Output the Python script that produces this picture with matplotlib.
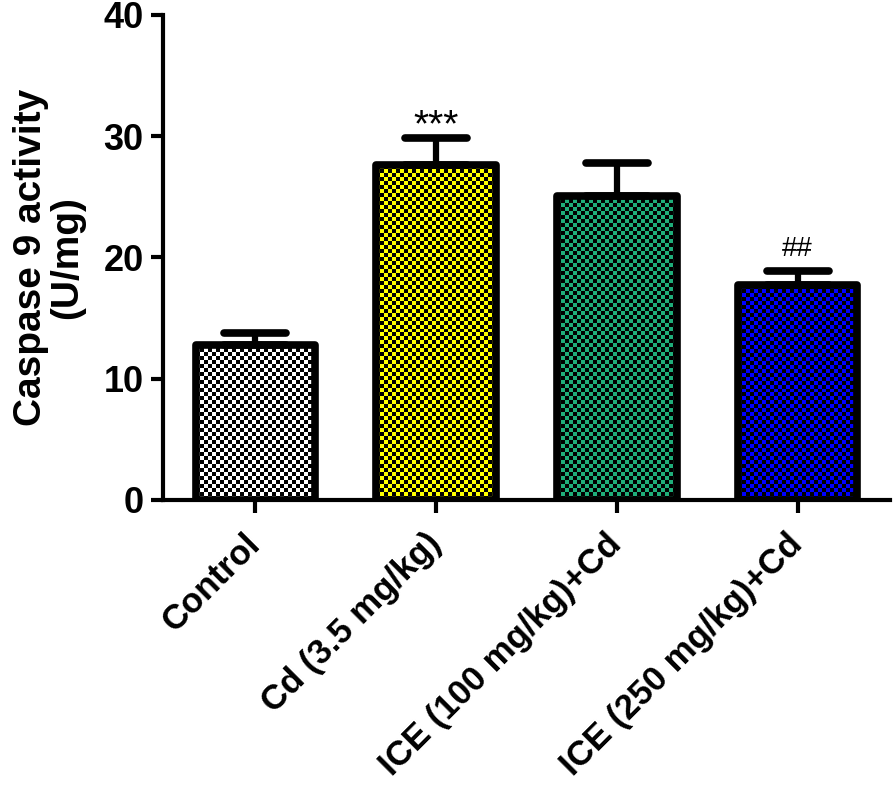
import numpy as np
import matplotlib
matplotlib.use("Agg")
from matplotlib import pyplot as plt
from matplotlib.markers import MarkerStyle

groups = ['Control', 'Cd (3.5 mg/kg)', 'ICE (100 mg/kg)+Cd', 'ICE (250 mg/kg)+Cd']
means = [12.8, 27.6, 25.1, 17.7]
errs = [1.0, 2.25, 2.65, 1.2]
fill_colors = ['white', '#ffff00', '#1fae7a', '#0000ff']
marks = ['', '***', '', '##']

plt.rcParams['font.family'] = ['Liberation Sans', 'DejaVu Sans']
plt.rcParams['font.weight'] = 'bold'

fig = plt.figure(figsize=(8.93, 7.92), dpi=100)
ax = fig.add_axes([0.1825, 0.3687, 0.814, 0.6125])

x = np.arange(len(groups))
width = 0.66
bars = ax.bar(x, means, width=width, color='none', edgecolor='none', zorder=1)

# checker texture inside each bar
for b, c in zip(bars, fill_colors):
    nx = 30
    ny = max(int(round(b.get_height() * 12.15 / 4)), 1)
    cells = (np.add.outer(np.arange(ny), np.arange(nx)) % 2).astype(float)
    rgb = np.array(matplotlib.colors.to_rgb(c))
    img = np.where(cells[..., None] == 1, rgb, np.zeros(3))
    im = ax.imshow(img, extent=[b.get_x(), b.get_x() + b.get_width(), 0, b.get_height()],
                   aspect='auto', interpolation='nearest', zorder=2)
    im.set_clip_path(b)

ax.bar(x, means, width=width, color='none', edgecolor='black', linewidth=5.5,
       joinstyle='round', zorder=3)

eb = ax.errorbar(x, means, yerr=[np.zeros(len(means)), errs], fmt='none', ecolor='black',
                 elinewidth=4.5, capsize=22, capthick=5.5, zorder=2.5)
for cl in eb[1]:
    cl.set_marker(MarkerStyle('_', capstyle='round'))

ax.text(x[1], means[1] + errs[1] + 0.1, marks[1], ha='center', va='baseline',
        fontsize=28, fontweight='normal')
ax.text(x[3], means[3] + errs[3] + 1.2, marks[3], ha='center', va='baseline',
        fontsize=20, fontweight='normal')

ax.set_xlim(-0.51, 3.51)
ax.set_ylim(0, 40)
ax.set_yticks([0, 10, 20, 30, 40])
ax.set_xticks(x)
ax.set_xticklabels(groups, rotation=45, ha='right', va='center', rotation_mode='anchor',
                   fontsize=25)
ax.tick_params(axis='y', labelsize=26, width=3, length=9, pad=5)
ax.tick_params(axis='x', width=3, length=9, pad=19)
for s in ['top', 'right']:
    ax.spines[s].set_visible(False)
for s in ['left', 'bottom']:
    ax.spines[s].set_linewidth(3)
ax.set_ylabel('Caspase 9 activity\n(U/mg)', fontsize=28, fontweight='bold', linespacing=1.0)
ax.yaxis.set_label_coords(-0.107, 0.5)

fig.savefig('out.png', dpi=100)
